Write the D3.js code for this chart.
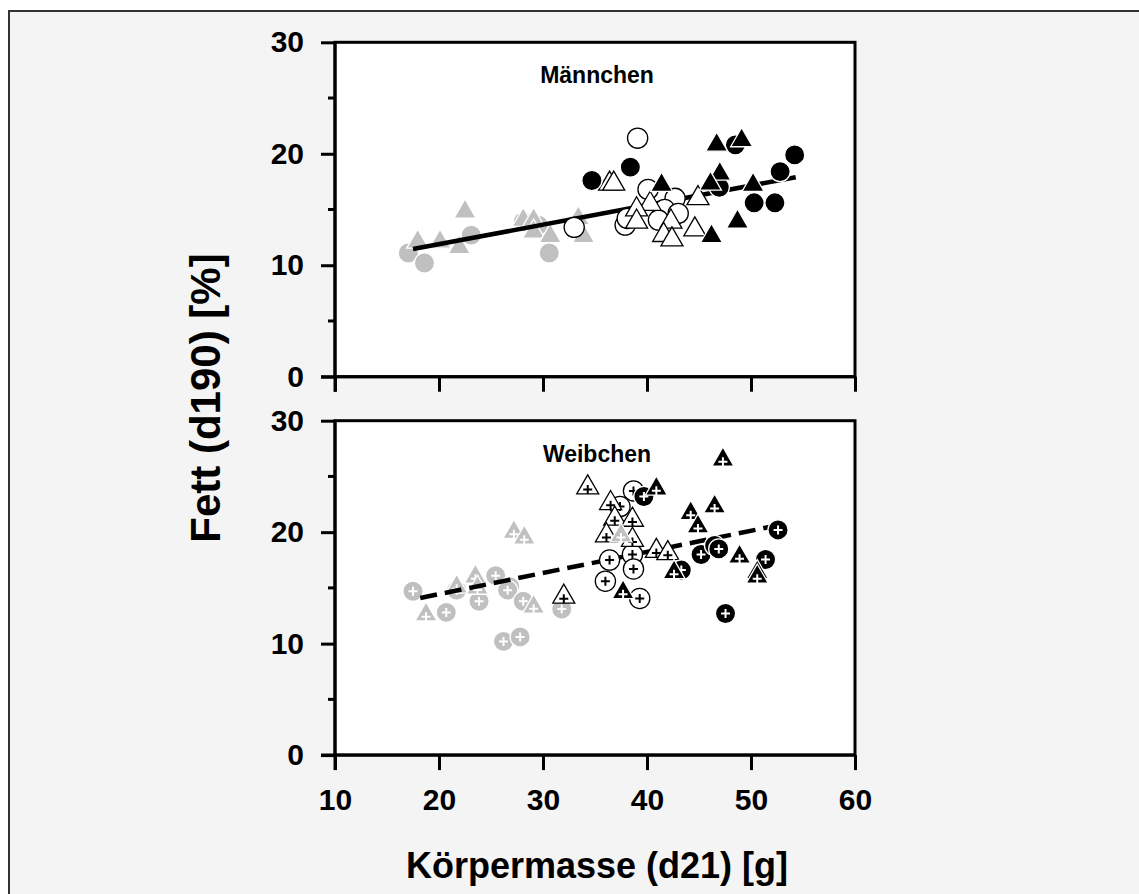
<!DOCTYPE html>
<html>
<head>
<meta charset="utf-8">
<script src="https://cdnjs.cloudflare.com/ajax/libs/d3/7.8.5/d3.min.js"></script>
<style>
  body { margin: 0; background: #fff; }
  text { font-family: "Liberation Sans", Arial, sans-serif; font-weight: bold; fill: #000; }
</style>
</head>
<body>
<div id="chart"></div>
<script>
// Männchen (top panel), [mass, fat]
const mGrayCirc = [[17.05, 11.1], [18.6, 10.2], [23.1, 12.7], [28.1, 13.9], [29.55, 13.6], [30.6, 11.1]];
const mGrayTri = [[17.95, 12.1], [20.1, 12.1], [21.95, 11.6], [22.5, 14.8], [28.1, 14.05], [29.1, 14.05],
                  [29.1, 13.0], [30.7, 12.6], [33.4, 14.2], [33.9, 12.6]];
const mWhiteCirc = [[33.0, 13.4], [39.1, 21.4], [37.9, 13.6], [38.1, 14.2], [40.1, 16.8], [42.7, 16.0],
                    [41.7, 15.0], [43.0, 14.65], [41.1, 14.05]];
const mWhiteTri = [[36.4, 17.3], [36.8, 17.3], [40.3, 15.5], [39.0, 15.0], [39.0, 13.9], [42.3, 13.9],
                   [41.6, 12.7], [42.4, 12.3], [44.6, 13.2], [44.9, 16.0]];
const mBlackCirc = [[34.7, 17.6], [38.4, 18.8], [48.5, 20.8], [46.95, 17.0], [50.3, 15.6], [52.3, 15.6],
                    [52.8, 18.4], [54.2, 19.9]];
const mBlackTri = [[41.4, 17.2], [46.2, 12.6], [48.7, 13.9], [46.7, 20.8], [49.1, 21.2], [47.0, 18.2],
                   [46.1, 17.3], [50.2, 17.2]];
const mFit = [[17.5, 11.45], [54.3, 17.9]];

// Weibchen (bottom panel)
const wGrayCirc = [[17.5, 14.7], [20.7, 12.8], [21.7, 14.8], [23.85, 13.8], [25.45, 16.1], [26.8, 15.1],
                   [26.6, 14.8], [28.1, 13.8], [26.2, 10.2], [27.8, 10.6], [31.8, 13.1]];
const wGrayTri = [[18.75, 12.6], [21.7, 15.1], [23.5, 16.0], [23.7, 15.0], [29.1, 13.3], [27.2, 20.0],
                  [28.2, 19.5]];
const wGrayTriFront = [[37.5, 19.7]];
const wWhiteCirc = [[38.7, 23.7], [37.4, 22.3], [38.6, 18.0], [36.4, 17.5], [38.7, 16.7], [36.0, 15.6],
                    [39.3, 14.05]];
const wWhiteTri = [[32.0, 14.2], [34.3, 24.0], [36.5, 22.6], [36.9, 21.2], [38.6, 21.1], [36.1, 19.7],
                   [38.6, 19.3], [40.9, 18.3], [42.0, 18.1]];
const wBlackCirc = [[39.7, 23.2], [43.3, 16.6], [45.2, 18.0], [46.5, 18.8], [46.9, 18.5], [47.55, 12.7],
                    [52.6, 20.2], [51.4, 17.55]];
const wBlackTri = [[40.9, 23.9], [37.7, 14.6], [42.6, 16.4], [44.2, 21.7], [46.5, 22.3], [44.9, 20.5],
                   [48.9, 17.8], [50.6, 16.4], [50.6, 16.0], [47.3, 26.5]];
const wFit = [[18.2, 14.1], [52.5, 20.6]];

const xTicks = [10, 20, 30, 40, 50, 60];
const yTicks = [0, 10, 20, 30];
const yMinor = [5, 15, 25];

const W = 1139, H = 894;
const svg = d3.select("#chart").append("svg").attr("width", W).attr("height", H);

svg.append("rect").attr("x", 9).attr("y", 11).attr("width", W).attr("height", H)
    .attr("fill", "#f4f4f4").attr("stroke", "#333").attr("stroke-width", 2);

const x = d3.scaleLinear().domain([10, 60]).range([335, 855]);

const styles = {
    gray:  { fill: "#c0c0c0", stroke: "#fff", plus: "#fff" },
    white: { fill: "#fff", stroke: "#000", plus: "#000" },
    black: { fill: "#000", stroke: "#fff", plus: "#fff" }
};

function panel(top, label, series, fit, dashed, showXLabels) {
    const y = d3.scaleLinear().domain([0, 30]).range([top + 334.4, top]);
    const g = svg.append("g");

    g.append("rect").attr("x", x(10)).attr("y", y(30))
        .attr("width", x(60) - x(10)).attr("height", y(0) - y(30))
        .attr("fill", "#fff").attr("stroke", "#000").attr("stroke-width", 3);

    const ya = g.append("g").attr("transform", `translate(${x(10)},0)`)
        .call(d3.axisLeft(y).tickValues(yTicks).tickSize(14).tickPadding(17).tickFormat(d3.format("d")));
    ya.append("g").selectAll("line").data(yMinor).enter().append("line")
        .attr("x1", -7).attr("x2", 0).attr("y1", d => y(d)).attr("y2", d => y(d))
        .attr("stroke", "#000").attr("stroke-width", 3);

    const xa = g.append("g").attr("transform", `translate(0,${y(0)})`)
        .call(d3.axisBottom(x).tickValues(xTicks).tickSize(15).tickPadding(19)
            .tickFormat(showXLabels ? d3.format("d") : ""));

    [ya, xa].forEach(a => {
        a.selectAll(".tick line").attr("stroke", "#000").attr("stroke-width", 3);
        a.selectAll(".tick text").attr("font-size", 30)
            .attr("font-family", "Liberation Sans, Arial, sans-serif").attr("font-weight", "bold");
    });
    ya.select(".domain").remove();
    xa.select(".domain").remove();
    g.append("line").attr("x1", x(10)).attr("x2", x(10)).attr("y1", y(30)).attr("y2", y(0) + 15)
        .attr("stroke", "#000").attr("stroke-width", 3);
    g.append("line").attr("x1", x(10) - 14).attr("x2", x(60)).attr("y1", y(0)).attr("y2", y(0))
        .attr("stroke", "#000").attr("stroke-width", 3);

    g.append("text").attr("x", 597).attr("y", top + 41).attr("text-anchor", "middle")
        .attr("font-size", 23).text(label);

    const line = d3.line().x(d => x(d[0])).y(d => y(d[1]));

    series.forEach(s => {
        const st = styles[s.col];
        const sym = d3.symbol().type(s.shape === "tri" ? d3.symbolTriangle : d3.symbolCircle)
            .size(s.shape === "tri" ? 210 : 320);
        const m = g.append("g").selectAll("g").data(s.data).enter().append("g")
            .attr("transform", d => `translate(${x(d[0])},${y(d[1])})`);
        m.append("path").attr("d", sym).attr("fill", st.fill)
            .attr("stroke", st.stroke).attr("stroke-width", 1.3);
        if (s.plus) {
            const dy = s.shape === "tri" ? 2 : 0;
            m.append("path").attr("d", `M-4.5,${dy}H4.5M0,${dy - 4.5}V${dy + 4.5}`)
                .attr("stroke", st.plus).attr("stroke-width", 2).attr("fill", "none");
        }
        if (s.after === "fit") {
            g.append("path").datum(fit).attr("d", line).attr("fill", "none")
                .attr("stroke", "#000").attr("stroke-width", 4.5)
                .attr("stroke-dasharray", dashed ? "17,8" : null);
        }
    });
}

panel(42.3, "Männchen", [
    { data: mGrayCirc, shape: "circ", col: "gray" },
    { data: mGrayTri, shape: "tri", col: "gray", after: "fit" },
    { data: mWhiteCirc, shape: "circ", col: "white" },
    { data: mWhiteTri, shape: "tri", col: "white" },
    { data: mBlackCirc, shape: "circ", col: "black" },
    { data: mBlackTri, shape: "tri", col: "black" }
], mFit, false, false);

panel(420.7, "Weibchen", [
    { data: wGrayCirc, shape: "circ", col: "gray", plus: true },
    { data: wGrayTri, shape: "tri", col: "gray", plus: true, after: "fit" },
    { data: wWhiteCirc, shape: "circ", col: "white", plus: true },
    { data: wWhiteTri, shape: "tri", col: "white", plus: true },
    { data: wGrayTriFront, shape: "tri", col: "gray", plus: true },
    { data: wBlackCirc, shape: "circ", col: "black", plus: true },
    { data: wBlackTri, shape: "tri", col: "black", plus: true }
], wFit, true, true);

svg.append("text").attr("x", 597).attr("y", 878).attr("text-anchor", "middle")
    .attr("font-size", 36).text("Körpermasse (d21) [g]");
svg.append("text").attr("transform", "translate(220,398) rotate(-90)").attr("text-anchor", "middle")
    .attr("font-size", 42).text("Fett (d190) [%]");
</script>
</body>
</html>
